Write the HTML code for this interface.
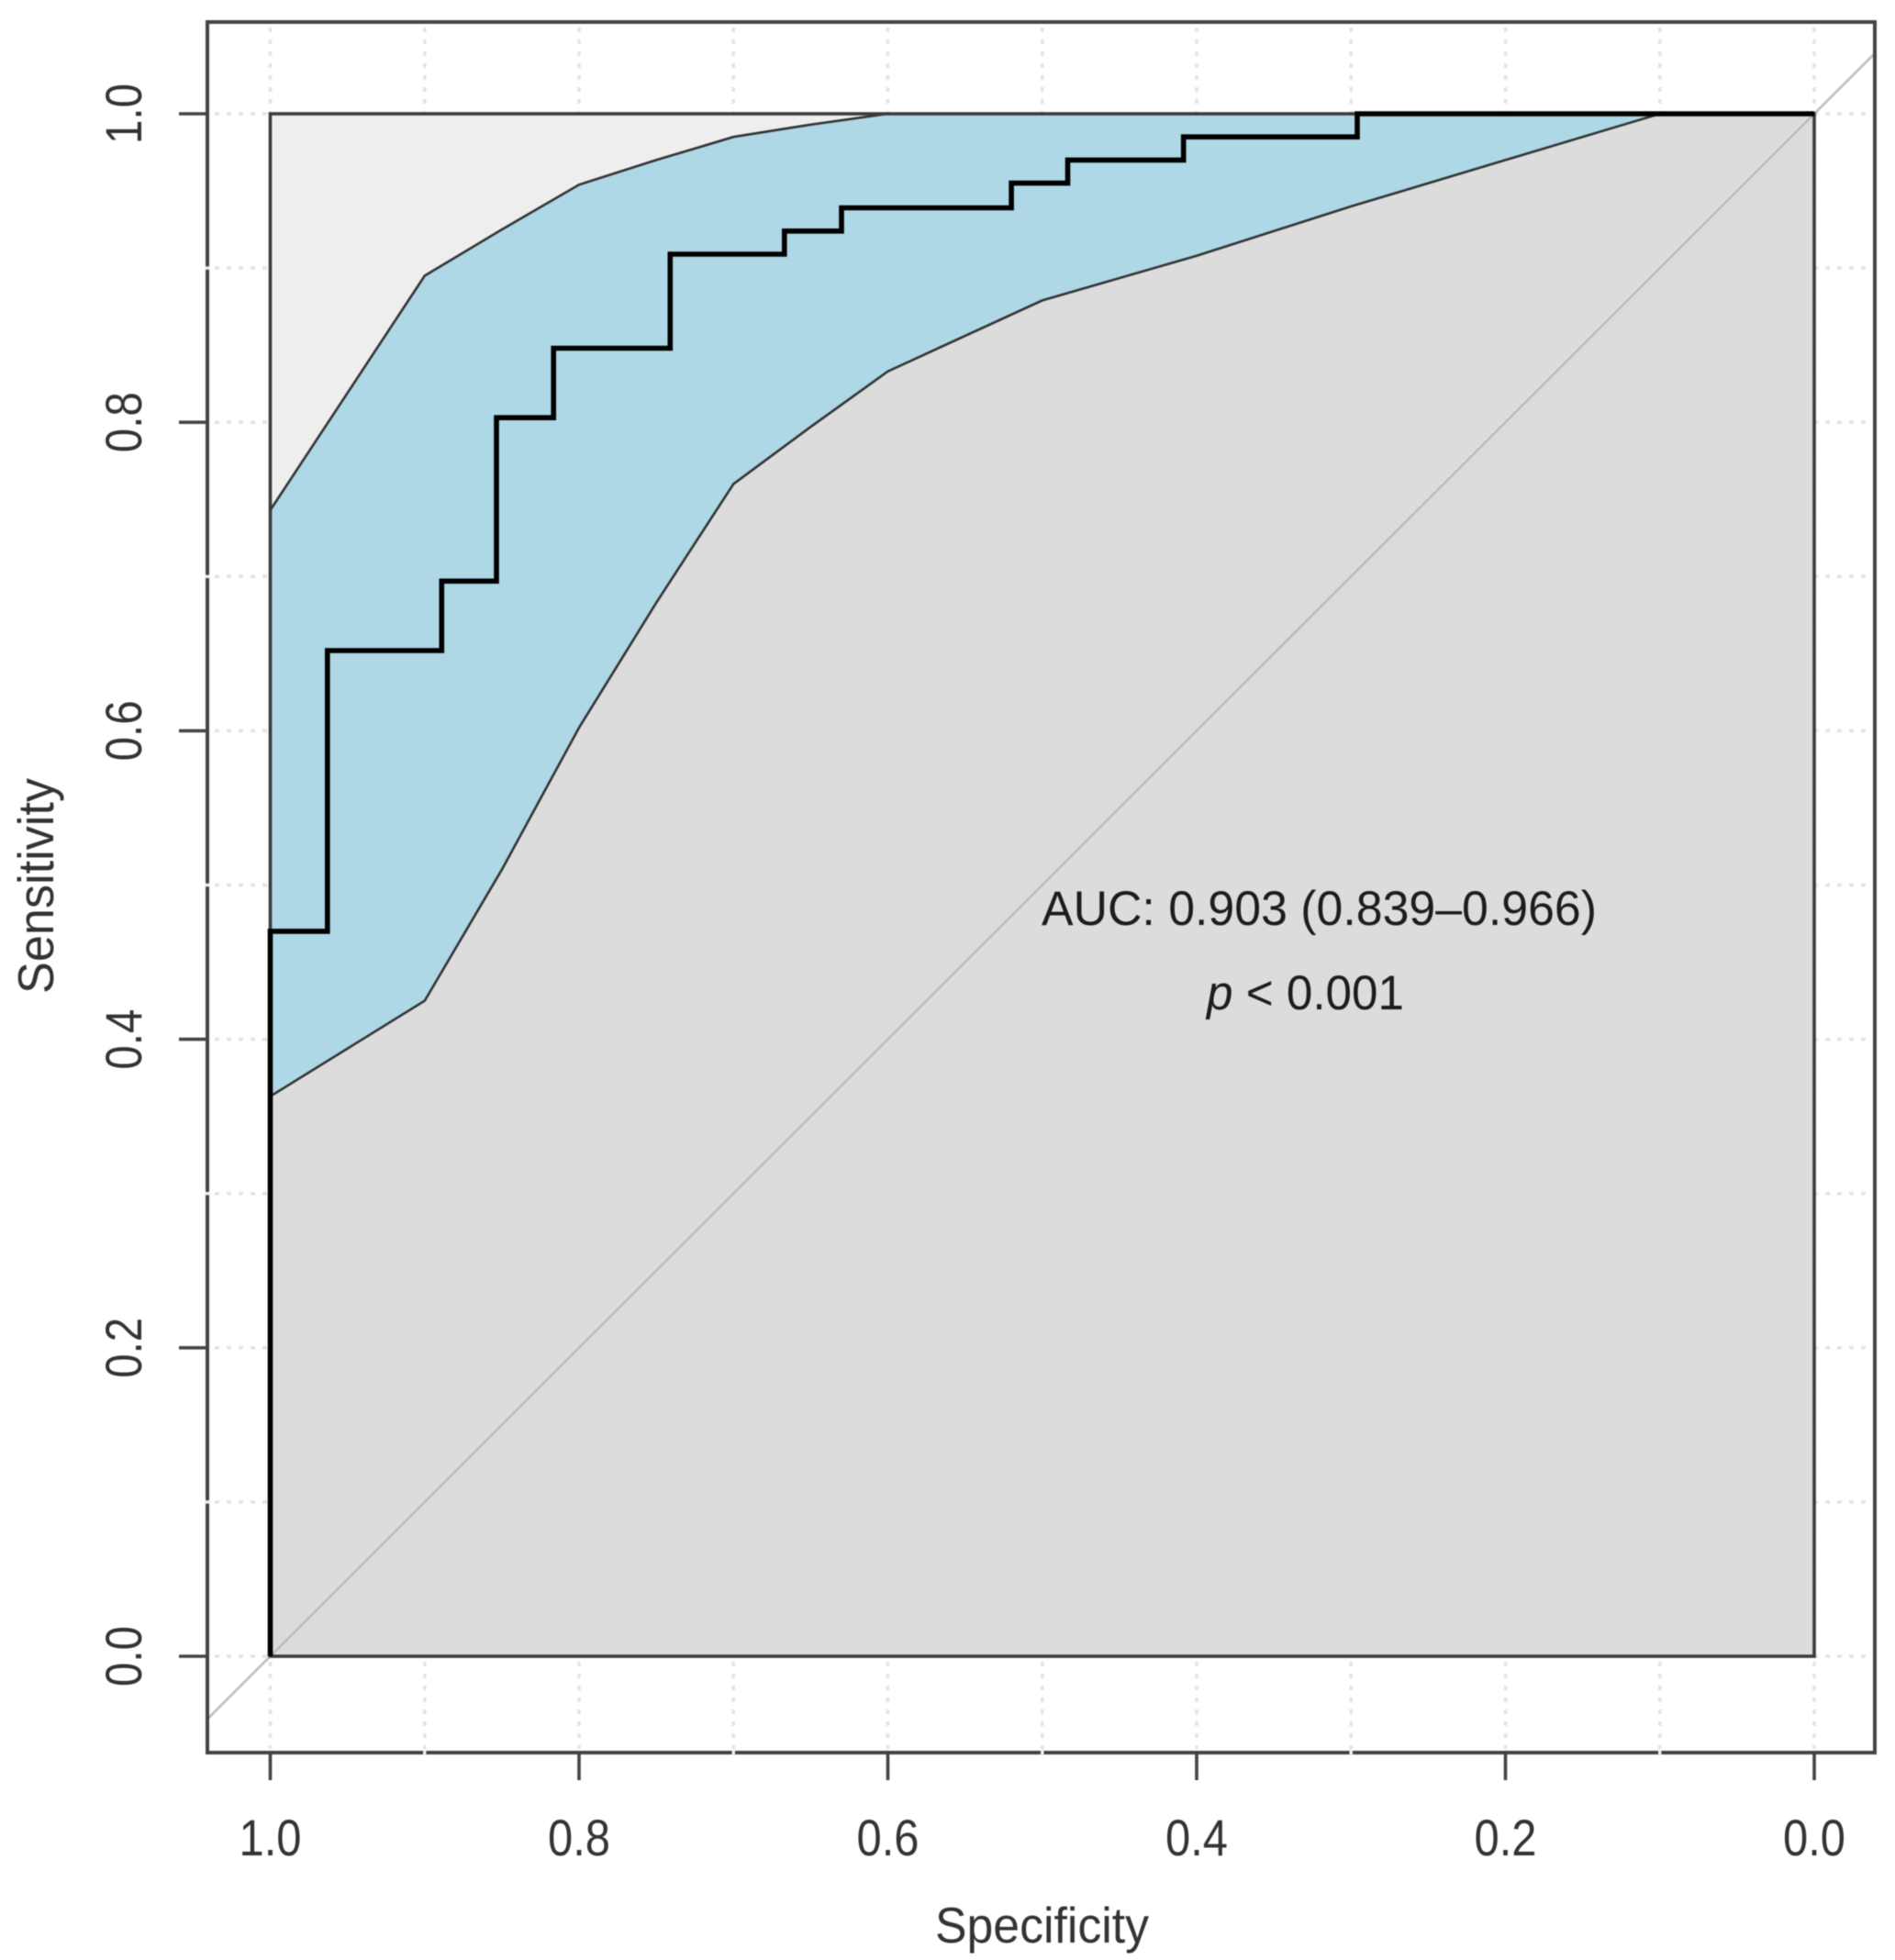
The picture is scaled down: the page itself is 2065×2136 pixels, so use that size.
<!DOCTYPE html>
<html lang="en">
<head>
<meta charset="utf-8">
<title>ROC curve</title>
<style>
html,body{margin:0;padding:0;background:#fff;}
svg{display:block;filter:blur(0.6px);}
text{font-family:"Liberation Sans",Arial,sans-serif;fill:#333;}
</style>
</head>
<body>
<svg id="chart" xmlns="http://www.w3.org/2000/svg" width="2065" height="2136" viewBox="0 0 2065 2136">
  <rect x="0" y="0" width="2065" height="2136" fill="#ffffff"/>
  <g id="grid"></g>
  <g id="marks"></g>
  <g id="axes"></g>
  <text x="1135.5" y="2117" font-size="55" text-anchor="middle" textLength="233" lengthAdjust="spacingAndGlyphs">Specificity</text>
  <text transform="translate(58,965.5) rotate(-90)" x="0" y="0" font-size="55" text-anchor="middle" textLength="235" lengthAdjust="spacingAndGlyphs">Sensitivity</text>
  <text x="1135" y="1008" font-size="53" textLength="605" lengthAdjust="spacingAndGlyphs" style="fill:#1c1c1c">AUC: 0.903 (0.839–0.966)</text>
  <text x="1315" y="1100" font-size="53" textLength="215" lengthAdjust="spacingAndGlyphs" style="fill:#1c1c1c"><tspan font-style="italic">p</tspan> &lt; 0.001</text>
</svg>
<script>
// Axis tick values
const majorTicks = [0, 0.2, 0.4, 0.6, 0.8, 1];
const tickLabels = ['0.0', '0.2', '0.4', '0.6', '0.8', '1.0'];
const gridTicks = [0, 0.1, 0.2, 0.3, 0.4, 0.5, 0.6, 0.7, 0.8, 0.9, 1];

// ROC step curve: specificity and sensitivity at each vertex
const rocSpecificity = [1, 1, 0.963, 0.963, 0.889, 0.889, 0.8535, 0.8535, 0.8165, 0.8165, 0.741, 0.741, 0.667, 0.667, 0.63, 0.63, 0.52, 0.52, 0.4835, 0.4835, 0.4085, 0.4085, 0.296, 0.296, 0];
const rocSensitivity = [0, 0.47, 0.47, 0.652, 0.652, 0.697, 0.697, 0.803, 0.803, 0.848, 0.848, 0.909, 0.909, 0.924, 0.924, 0.939, 0.939, 0.955, 0.955, 0.97, 0.97, 0.985, 0.985, 1, 1];

// Confidence band
const ciSpecificity = [1, 0.9, 0.85, 0.8, 0.75, 0.7, 0.65, 0.6, 0.5, 0.4, 0.3, 0.2, 0.1, 0];
const ciUpper = [0.743, 0.895, 0.925, 0.954, 0.97, 0.985, 0.993, 1, 1, 1, 1, 1, 1, 1];
const ciLower = [0.363, 0.425, 0.51, 0.602, 0.683, 0.76, 0.797, 0.833, 0.879, 0.908, 0.94, 0.97, 1, 1];

const NS = 'http://www.w3.org/2000/svg';
const FRAME = {l: 226, t: 24, r: 2043, b: 1910};
function sx(v) { return 1977 - 1682.5 * v; }
function sy(v) { return 1805 - 1681 * v; }
function mk(tag, parent, attrs) {
  const el = document.createElementNS(NS, tag);
  for (const k in attrs) el.setAttribute(k, attrs[k]);
  parent.appendChild(el);
  return el;
}
function toPoints(xs, ys) {
  return xs.map(function (x, i) { return sx(x).toFixed(1) + ',' + sy(ys[i]).toFixed(1); }).join(' ');
}
function reversed(a) { return a.slice().reverse(); }

const gridG = document.getElementById('grid');
const marksG = document.getElementById('marks');
const axesG = document.getElementById('axes');

// Dotted grid
gridTicks.forEach(function (v) {
  const gv = mk('line', gridG, {x1: sx(v), x2: sx(v), y1: FRAME.t + 6, y2: FRAME.b - 4, stroke: '#e3e3e3', 'stroke-width': 3.5, 'stroke-dasharray': '5 8'});
  
  
  const gh = mk('line', gridG, {x1: FRAME.l + 8, x2: FRAME.r - 4, y1: sy(v), y2: sy(v), stroke: '#e3e3e3', 'stroke-width': 3.5, 'stroke-dasharray': '5 8'});
  
  
});

// Plot square background (above the band)
const bg = mk('rect', marksG, {x: sx(1), y: sy(1), width: sx(0) - sx(1), height: sy(0) - sy(1), fill: '#eeeeee'});



// Region under the lower CI
const lowerPts = toPoints(ciSpecificity, ciLower) + ' ' + sx(0) + ',' + sy(0) + ' ' + sx(1) + ',' + sy(0);
const lowerRegion = mk('polygon', marksG, {points: lowerPts, fill: '#dcdcdc'});



// CI band
const bandPts = toPoints(ciSpecificity, ciUpper) + ' ' + toPoints(reversed(ciSpecificity), reversed(ciLower));
const band = mk('polygon', marksG, {points: bandPts, fill: '#aed8e6'});



const upperLine = mk('polyline', marksG, {points: toPoints(ciSpecificity, ciUpper), fill: 'none', stroke: '#333', 'stroke-width': 2.6});


const lowerLine = mk('polyline', marksG, {points: toPoints(ciSpecificity, ciLower), fill: 'none', stroke: '#333', 'stroke-width': 2.6});



// Diagonal reference line, extended past the square to the frame
const diagA = (sx(1) - FRAME.l) / (sx(0) - sx(1));
const diagB = (FRAME.r - sx(0)) / (sx(0) - sx(1));
const diag = mk('line', marksG, {x1: FRAME.l, y1: sy(-diagA), x2: FRAME.r, y2: sy(1 + diagB), stroke: '#bdbdbd', 'stroke-width': 2.6});



// Square outline
const square = mk('rect', marksG, {x: sx(1), y: sy(1), width: sx(0) - sx(1), height: sy(0) - sy(1), fill: 'none', stroke: '#3c3c3c', 'stroke-width': 3.6});



// ROC curve
const roc = mk('polyline', marksG, {points: toPoints(rocSpecificity, rocSensitivity), fill: 'none', stroke: '#000', 'stroke-width': 5.6, 'stroke-linejoin': 'miter'});



// Frame
const frame = mk('rect', axesG, {x: FRAME.l, y: FRAME.t, width: FRAME.r - FRAME.l, height: FRAME.b - FRAME.t, fill: 'none', stroke: '#444', 'stroke-width': 4});



// Light nicks where the minor grid lines cross the frame
gridTicks.forEach(function (v) {
  if (majorTicks.indexOf(v) !== -1) return;
  const n1 = mk('line', axesG, {x1: sx(v), x2: sx(v), y1: FRAME.b - 3, y2: FRAME.b + 3, stroke: '#eee', 'stroke-width': 3.5});
  
  
  const n2 = mk('line', axesG, {x1: FRAME.l - 3, x2: FRAME.l + 3, y1: sy(v), y2: sy(v), stroke: '#eee', 'stroke-width': 3.5});
  
  
});

// Ticks and tick labels
majorTicks.forEach(function (v, i) {
  const tx = mk('line', axesG, {x1: sx(v), x2: sx(v), y1: FRAME.b, y2: 1940, stroke: '#444', 'stroke-width': 3.6});
  
  
  const ty = mk('line', axesG, {x1: 195, x2: FRAME.l, y1: sy(v), y2: sy(v), stroke: '#444', 'stroke-width': 3.6});
  
  
  const lx = mk('text', axesG, {x: sx(v), y: 2022, 'font-size': 56, 'text-anchor': 'middle', textLength: 68, lengthAdjust: 'spacingAndGlyphs'});
  
  
  lx.textContent = tickLabels[i];
  const ly = mk('text', axesG, {transform: 'translate(154,' + sy(v) + ') rotate(-90)', x: 0, y: 0, 'font-size': 56, 'text-anchor': 'middle', textLength: 66, lengthAdjust: 'spacingAndGlyphs'});
  
  
  ly.textContent = tickLabels[i];
});
</script>
</body>
</html>
